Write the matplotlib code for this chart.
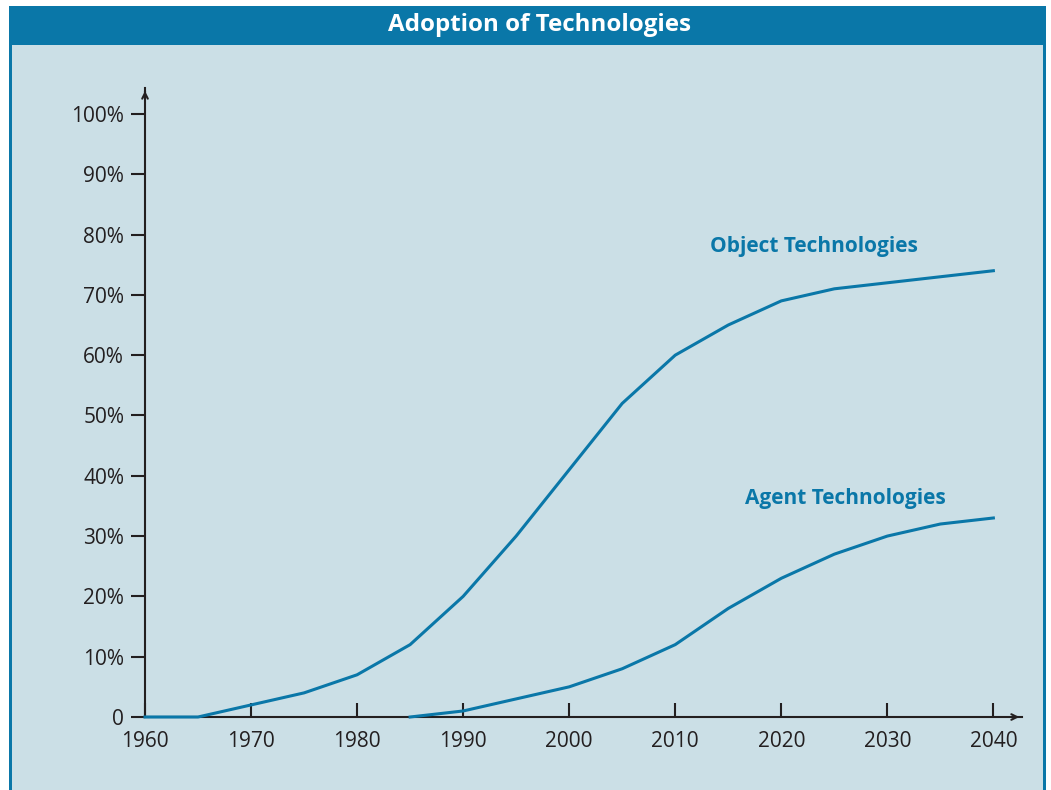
import numpy as np
import matplotlib.pyplot as plt
from matplotlib.patches import Rectangle

# data
years_obj = [1960, 1965, 1970, 1975, 1980, 1985, 1990, 1995, 2000, 2005,
             2010, 2015, 2020, 2025, 2030, 2035, 2040]
object_tech = [0, 0, 2, 4, 7, 12, 20, 30, 41, 52, 60, 65, 69, 71, 72, 73, 74]
years_agent = [1985, 1990, 1995, 2000, 2005, 2010, 2015, 2020, 2025, 2030, 2035, 2040]
agent_tech = [0, 1, 3, 5, 8, 12, 18, 23, 27, 30, 32, 33]
xticks = [1960, 1970, 1980, 1990, 2000, 2010, 2020, 2030, 2040]
yticks = [0, 10, 20, 30, 40, 50, 60, 70, 80, 90, 100]
ylabels = ["0"] + [f"{v}%" for v in yticks[1:]]

BLUE = "#0a77a8"
PANEL = "#cbdfe6"
INK = "#231f20"
W, H = 1051, 790

plt.rcParams["font.family"] = ["Open Sans", "DejaVu Sans"]

fig = plt.figure(figsize=(W / 100, H / 100), dpi=100)
fig.patch.set_facecolor("white")


def px_rect(x0, y0, x1, y1, color):
    fig.patches.append(Rectangle((x0 / W, 1 - y1 / H), (x1 - x0) / W, (y1 - y0) / H,
                                 transform=fig.transFigure, facecolor=color,
                                 edgecolor="none", zorder=-10))


px_rect(9, 6, 1046, 792, BLUE)
px_rect(12, 45, 1043, 792, PANEL)
fig.text(540 / W, 1 - 25 / H, "Adoption of Technologies", color="white",
         fontsize=17.4, fontweight="bold", ha="center", va="center")

ax = fig.add_axes([145 / W, 1 - 717 / H, (1022 - 145) / W, (717 - 88) / H])
ax.set_zorder(5)
ax.set_facecolor("none")
ax.set_xlim(1960, 2042.7)
ax.set_ylim(0, 104.3)

for s in ["top", "right"]:
    ax.spines[s].set_visible(False)
for s in ["left", "bottom"]:
    ax.spines[s].set_color(INK)
    ax.spines[s].set_linewidth(1.5)

ax.plot(years_obj, object_tech, color=BLUE, lw=2.2, clip_on=False, zorder=3)
ax.plot(years_agent, agent_tech, color=BLUE, lw=2.2, clip_on=False, zorder=3)

ax.set_xticks(xticks)
ax.set_yticks(yticks)
ax.set_yticklabels(ylabels)
ax.tick_params(axis="x", direction="in", length=10, width=1.5, color=INK,
               labelsize=15, labelcolor=INK, pad=10)
ax.tick_params(axis="y", direction="out", length=10, width=1.5, color=INK,
               labelsize=15, labelcolor=INK, pad=5)

# axis arrow heads
ax.annotate("", xy=(1, 0), xycoords="axes fraction", xytext=(0.99, 0),
            arrowprops=dict(arrowstyle="->", color=INK, lw=1.5))
ax.annotate("", xy=(0, 1), xycoords="axes fraction", xytext=(0, 0.99),
            arrowprops=dict(arrowstyle="->", color=INK, lw=1.5))

ax.text(2013.3, 78.1, "Object Technologies", color=BLUE, fontsize=15,
        fontweight="bold", va="center")
ax.text(2016.6, 36.3, "Agent Technologies", color=BLUE, fontsize=15,
        fontweight="bold", va="center")

fig.savefig("out.png", dpi=100)
